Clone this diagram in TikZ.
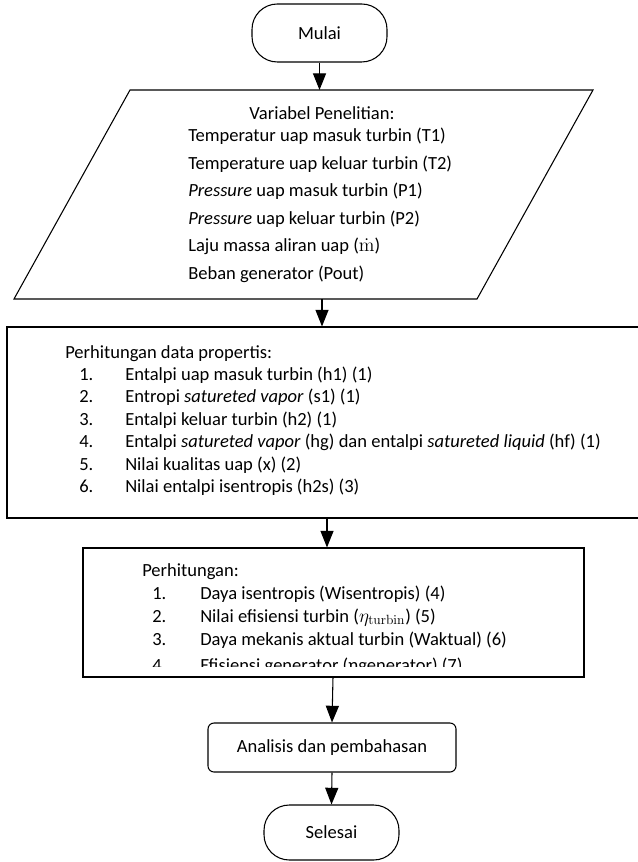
\documentclass[tikz,border=0pt]{standalone}
\usepackage[no-math]{fontspec}
\setmainfont{Carlito}
\usepackage{tikz}
\usetikzlibrary{arrows.meta,positioning}
\usepackage{xcolor}
\definecolor{FlowInk}{HTML}{000000}

\begin{document}
\begin{tikzpicture}[
  x=0.75pt,y=-0.75pt,font=\fontsize{13.9}{16.7}\selectfont,
  flow/.style={-{Triangle[length=12.5pt,width=9.8pt]},draw=FlowInk,
    line width=0.8pt},
  terminal/.style={draw=FlowInk,line width=0.8pt,rounded corners=19pt,
    minimum width=101.25pt,minimum height=43.5pt,inner sep=0pt},
  procbox/.style={draw=FlowInk,line width=0.8pt,inner sep=0pt},
  roundbox/.style={procbox,rounded corners=4.5pt},
  txt/.style={anchor=west,inner sep=0pt,text height=0.7em,text depth=0.1em},
  heading/.style={txt,anchor=center}
]
\useasboundingbox (0,0) rectangle (637,862);

% start
\node[terminal] (mulai) at (319.5,33) {Mulai};

% input: research variables
\draw[draw=FlowInk,line width=0.8pt]
  (130,90) -- (593,90) -- (477,299) -- (14,299) -- cycle;
\coordinate (varIn) at (319.5,90);
\coordinate (varOut) at (322,299);
\node[heading] (varTitle) at (322,116) {Variabel Penelitian:};
\node[txt] (var1) at (188,138) {Temperatur uap masuk turbin (T1)};
\node[txt] (var2) at (188,165.5) {Temperature uap keluar turbin (T2)};
\node[txt] (var3) at (188,193) {\textit{Pressure} uap masuk turbin (P1)};
\node[txt] (var4) at (188,220.5) {\textit{Pressure} uap keluar turbin (P2)};
\node[txt] (var5) at (188,248) {Laju massa aliran uap ($\dot{\mathrm{m}}$)};
\node[txt] (var6) at (188,275.5) {Beban generator (Pout)};

% property data
\node[procbox,minimum width=495pt,minimum height=143.25pt] (propBox)
  at (337,422.5) {};
\coordinate (propOut) at (327,518);
\node[txt] (propTitle) at (65,354) {Perhitungan data propertis:};
\node[txt] (propN1) at (79,376.4) {1.};
\node[txt] (prop1) at (125,376.4) {Entalpi uap masuk turbin (h1) (1)};
\node[txt] (propN2) at (79,398.8) {2.};
\node[txt] (prop2) at (125,398.8) {Entropi \textit{satureted vapor} (s1) (1)};
\node[txt] (propN3) at (79,421.2) {3.};
\node[txt] (prop3) at (125,421.2) {Entalpi keluar turbin (h2) (1)};
\node[txt] (propN4) at (79,443.6) {4.};
\node[txt] (prop4) at (125,443.6)
  {Entalpi \textit{satureted vapor} (hg) dan entalpi \textit{satureted liquid} (hf) (1)};
\node[txt] (propN5) at (79,466) {5.};
\node[txt] (prop5) at (125,466) {Nilai kualitas uap (x) (2)};
\node[txt] (propN6) at (79,488.4) {6.};
\node[txt] (prop6) at (125,488.4) {Nilai entalpi isentropis (h2s) (3)};

% performance calculation, last line cut by the box
\node[procbox,minimum width=375.75pt,minimum height=96.75pt] (calcBox)
  at (333.5,612.5) {};
\coordinate (calcOut) at (333,677);
\node[txt] (calcTitle) at (142,572) {Perhitungan:};
\node[txt] (calcN1) at (152,595) {1.};
\node[txt] (calc1) at (200,595) {Daya isentropis (Wisentropis) (4)};
\node[txt] (calcN2) at (152,618) {2.};
\node[txt] (calc2) at (200,618)
  {Nilai efisiensi turbin ($\eta_{\mathrm{turbin}}$) (5)};
\node[txt] (calcN3) at (152,641) {3.};
\node[txt] (calc3) at (200,641) {Daya mekanis aktual turbin (Waktual) (6)};
\begin{scope}
  \clip (83,548) rectangle (584,666);
  \node[txt] (calcN4) at (152,667) {4.};
  \node[txt] (calc4) at (200,667) {Efisiensi generator (ηgenerator) (7)};
\end{scope}

% analysis and end
\node[roundbox,minimum width=186pt,minimum height=36.75pt] (analisis)
  at (332,747.5) {Analisis dan pembahasan};
\node[terminal,minimum height=41.25pt] (selesai) at (331.5,832.5) {Selesai};

\draw[flow] (mulai.south) -- (varIn);
\draw[flow] (varOut) -- (varOut |- propBox.north);
\draw[flow] (propOut) -- (propOut |- calcBox.north);
\draw[flow] (calcOut) -- (analisis.north);
\draw[flow] (analisis.south) -- (selesai.north);

\end{tikzpicture}
\end{document}
